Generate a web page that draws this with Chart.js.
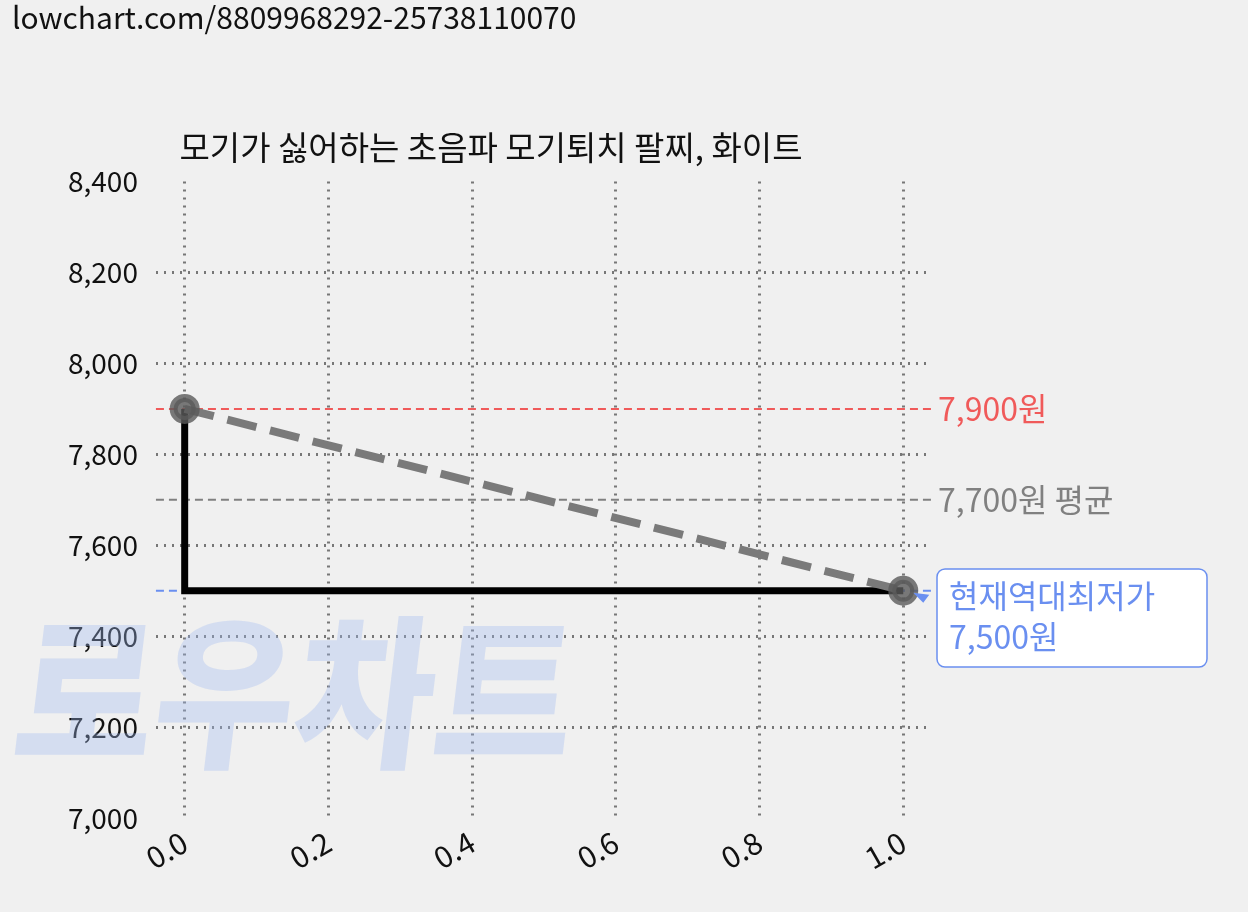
<!DOCTYPE html>
<html><head><meta charset="utf-8">
<script src="https://cdn.jsdelivr.net/npm/chart.js@4"></script>
<style>body{margin:0;background:#f0f0f0;}#wrap{position:relative;width:1248px;height:912px;}
#url{position:absolute;left:12px;top:-6px;font:30px "Noto Sans CJK KR";color:#111;}</style>
</head><body><div id="wrap"><div id="url">lowchart.com/8809968292-25738110070</div><canvas id="c" width="1248" height="912"></canvas></div>
<script>
const title = '모기가 싫어하는 초음파 모기퇴치 팔찌, 화이트';
const xValues = [0, 1];
const prices = [7900, 7500];
const stepX = [0, 0, 1];
const stepY = [7900, 7500, 7500];
const refLines = [
  { value: 7900, label: '7,900원', color: '#f05a5a' },
  { value: 7700, label: '7,700원 평균', color: '#808080' },
  { value: 7500, label: '7,500원', color: '#6a8ff0' }
];
const lowLabel = ['현재역대최저가', '7,500원'];
const yTicks = [7000, 7200, 7400, 7600, 7800, 8000, 8200, 8400];
const FONT = '"Noto Sans CJK KR"';

const overlay = {
  id: 'overlay',
  beforeDatasetsDraw(chart) {
    const { ctx, chartArea: a, scales: { x, y } } = chart;
    ctx.save();
    ctx.font = '900 165px ' + FONT;
    ctx.fillStyle = 'rgba(160,185,240,0.35)';
    ctx.textBaseline = 'alphabetic';
    ctx.translate(0, 755);
    ctx.transform(1, 0, -0.12, 1, 0, 0);
    ctx.scale(0.92, 1);
    ctx.fillText('로우차트', 10, 0);
    ctx.restore();
    ctx.save();
    ctx.lineWidth = 2;
    ctx.setLineDash([8, 5]);
    refLines.forEach(r => {
      const py = y.getPixelForValue(r.value);
      ctx.strokeStyle = r.color;
      ctx.beginPath(); ctx.moveTo(a.left, py); ctx.lineTo(a.right, py); ctx.stroke();
    });
    ctx.restore();
  },
  afterDatasetsDraw(chart) {
    const { ctx, chartArea: a, scales: { x, y } } = chart;
    ctx.save();
    ctx.font = '32px ' + FONT;
    ctx.textBaseline = 'middle';
    refLines.forEach(r => {
      ctx.fillStyle = r.color;
      ctx.fillText(r.label, a.right + 6, y.getPixelForValue(r.value));
    });
    const px = x.getPixelForValue(1), py = y.getPixelForValue(7500);
    ctx.fillStyle = '#6a8ff0';
    ctx.beginPath(); ctx.moveTo(px + 10, py + 2); ctx.lineTo(px + 26, py + 4); ctx.lineTo(px + 20, py + 12); ctx.fill();
    const bx = 937, by = 569, bw = 270, bh = 98;
    ctx.fillStyle = '#fff'; ctx.strokeStyle = '#6a8ff0'; ctx.lineWidth = 1.5;
    ctx.beginPath(); ctx.roundRect(bx, by, bw, bh, 8); ctx.fill(); ctx.stroke();
    ctx.fillStyle = '#6a8ff0';
    ctx.fillText(lowLabel[0], bx + 12, by + 27);
    ctx.fillText(lowLabel[1], bx + 12, by + 68);
    ctx.restore();
  }
};

new Chart(document.getElementById('c'), {
  type: 'scatter',
  data: {
    datasets: [
      { data: stepX.map((v, i) => ({ x: v, y: stepY[i] })), showLine: true, borderColor: '#000', borderWidth: 7, pointRadius: 0, order: 2 },
      { data: xValues.map((v, i) => ({ x: v, y: prices[i] })), showLine: true, borderColor: '#7a7a7a', borderWidth: 8, borderDash: [30, 14],
        pointRadius: 11, pointBackgroundColor: 'rgba(90,90,90,0.8)', pointBorderColor: 'rgba(90,90,90,0.8)', order: 1 }
    ]
  },
  options: {
    responsive: false, animation: false,
    layout: { padding: { left: 50, right: 316, top: 128, bottom: 30 } },
    plugins: {
      legend: { display: false }, tooltip: { enabled: false },
      title: { display: true, text: title, color: '#111', font: { family: FONT, size: 33, weight: 'normal' }, padding: { top: 0, bottom: 14 } }
    },
    scales: {
      x: {
        type: 'linear', min: -0.04, max: 1.04,
        afterBuildTicks: s => { s.ticks = [0, 0.2, 0.4, 0.6, 0.8, 1].map(v => ({ value: v })); },
        ticks: { color: '#111', font: { family: FONT, size: 30 }, minRotation: 30, maxRotation: 30, padding: 6, callback: v => v.toFixed(1) },
        grid: { color: '#777', lineWidth: 3, drawTicks: false, tickLength: 0 },
        border: { display: false, dash: [2, 6] }
      },
      y: {
        min: 7000, max: 8400,
        afterBuildTicks: s => { s.ticks = yTicks.map(v => ({ value: v })); },
        ticks: { color: '#111', font: { family: FONT, size: 28 }, padding: 18, callback: v => v.toLocaleString('en-US') },
        grid: { color: c => (c.tick && (c.tick.value === 7000 || c.tick.value === 8400)) ? 'rgba(0,0,0,0)' : '#777', lineWidth: 3, drawTicks: false },
        border: { display: false, dash: [2, 6] }
      }
    }
  },
  plugins: [overlay]
});
</script></body></html>
